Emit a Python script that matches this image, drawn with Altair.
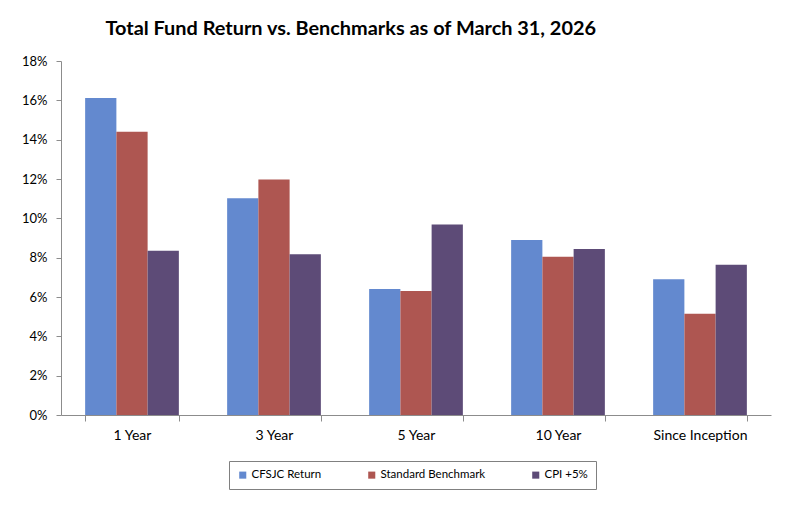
import altair as alt
import pandas as pd

categories = ["1 Year", "3 Year", "5 Year", "10 Year", "Since Inception"]
series_names = ["CFSJC Return", "Standard Benchmark", "CPI +5%"]
cfsjc_return = [0.1612, 0.1102, 0.0641, 0.0890, 0.0690]
standard_benchmark = [0.1440, 0.1198, 0.0630, 0.0805, 0.0515]
cpi_plus_5 = [0.0835, 0.0817, 0.0969, 0.0844, 0.0764]
colors = ["#6389CF", "#AE5651", "#5D4B77"]
y_ticks = [0, 0.02, 0.04, 0.06, 0.08, 0.10, 0.12, 0.14, 0.16, 0.18]

rows = []
for s, vals in zip(series_names, [cfsjc_return, standard_benchmark, cpi_plus_5]):
    for c, v in zip(categories, vals):
        rows.append({"Period": c, "Series": s, "Return": v})
df = pd.DataFrame(rows)

font = "Lato"

chart = alt.Chart(df).mark_bar(strokeWidth=0).encode(
    x=alt.X("Period:N", sort=categories, title=None,
            scale=alt.Scale(paddingInner=0.34, paddingOuter=0.17),
            axis=alt.Axis(labelAngle=0, tickBand="extent", domainColor="#8c8c8c",
                          tickColor="#8c8c8c", tickSize=6, labelPadding=7,
                          labelFontSize=14, labelColor="#000000", labelFont=font)),
    xOffset=alt.XOffset("Series:N", sort=series_names,
                        scale=alt.Scale(paddingInner=0, paddingOuter=0)),
    y=alt.Y("Return:Q", title=None,
            scale=alt.Scale(domain=[0, 0.18], nice=False),
            axis=alt.Axis(format=".0%", values=y_ticks, grid=False,
                          domainColor="#8c8c8c", tickColor="#8c8c8c", tickSize=5,
                          labelPadding=9, labelFontSize=13, labelColor="#000000",
                          labelFont=font)),
    color=alt.Color("Series:N", sort=series_names,
                    scale=alt.Scale(domain=series_names, range=colors),
                    legend=alt.Legend(title=None, orient="none", direction="horizontal",
                                      legendX=168, legendY=400, padding=8,
                                      strokeColor="#808080", symbolType="square",
                                      symbolSize=50, symbolStrokeWidth=0,
                                      labelFontSize=11.5, labelFont=font,
                                      labelColor="#000000", columnPadding=44,
                                      labelOffset=3)),
).properties(
    width=710,
    height=354,
    title=alt.TitleParams("Total Fund Return vs. Benchmarks as of March 31, 2026",
                          anchor="start", dx=84, offset=16, fontSize=19.9,
                          font=font, fontWeight="bold", color="#000000"),
    padding={"left": 61, "top": 61, "right": 29, "bottom": 92},
    autosize=alt.AutoSizeParams(type="none"),
).configure_view(stroke=None)

chart.save("out.html", embed_options={"renderer": "svg", "actions": False})
